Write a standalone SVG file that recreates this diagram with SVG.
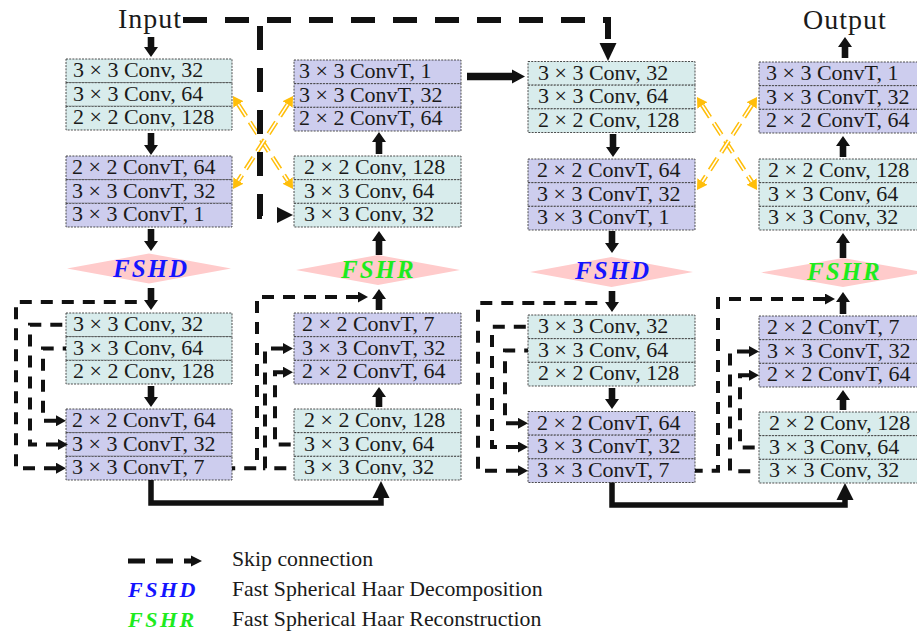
<svg xmlns="http://www.w3.org/2000/svg" width="917" height="635" viewBox="0 0 917 635">
<defs>
<style>
.cv{fill:#D8ECEC;stroke:#3a3a3a;stroke-width:0.9;stroke-dasharray:2 1.2}
.ct{fill:#CDCDEE;stroke:#3a3a3a;stroke-width:0.9;stroke-dasharray:2 1.2}
.lb{font-family:"Liberation Serif","Times New Roman",serif;font-size:22px;fill:#1a1a1a}
.io{font-family:"Liberation Serif","Times New Roman",serif;font-size:28px;letter-spacing:1px;fill:#1a1a1a}
.lg{font-family:"Liberation Serif","Times New Roman",serif;font-size:21.8px;fill:#1a1a1a}
.dm{fill:#FFCBCB}
.hd{font-family:"Liberation Serif","Times New Roman",serif;font-weight:bold;font-style:italic;font-size:25px;letter-spacing:2px;fill:#1414FF}
.hr{font-family:"Liberation Serif","Times New Roman",serif;font-weight:bold;font-style:italic;font-size:25px;letter-spacing:2px;fill:#1EEB1E}
.blk{fill:#111}
.skip{fill:none;stroke:#111;stroke-width:4;stroke-dasharray:12 9;marker-start:url(#sa)}
.big{fill:none;stroke:#111;stroke-width:6;stroke-dasharray:24 18}
.thick{fill:none;stroke:#111;stroke-width:5.5}
.or{fill:none;stroke:#FFBE0A;stroke-width:4.6;stroke-dasharray:14 7;marker-start:url(#oa);marker-end:url(#oa)}
.orw{fill:none;stroke:#fff;stroke-width:1.6;stroke-dasharray:14 7}
</style>
<marker id="sa" markerUnits="userSpaceOnUse" markerWidth="11" markerHeight="11" refX="0" refY="5.5" orient="auto-start-reverse"><path d="M0,0 L10,5.5 L0,11 z" fill="#111"/></marker>
<marker id="oa" markerUnits="userSpaceOnUse" markerWidth="11" markerHeight="12" refX="0" refY="6" orient="auto-start-reverse"><path d="M0,0 L10,6 L0,12 z" fill="#FFBE0A"/></marker>
</defs>
<rect width="917" height="635" fill="#fff"/>

<g id="input"><text class="io" x="118" y="28">Input</text></g>
<g id="output"><text class="io" x="803" y="29">Output</text></g>

<g id="A1" transform="translate(66,59)">
<rect class="cv" x="0" y="0" width="166" height="23.67"/><rect class="cv" x="0" y="23.67" width="166" height="23.67"/><rect class="cv" x="0" y="47.33" width="166" height="23.67"/>
<text class="lb" x="7" y="18">3 × 3 Conv, 32</text><text class="lb" x="7" y="41.7">3 × 3 Conv, 64</text><text class="lb" x="7" y="65.3">2 × 2 Conv, 128</text>
</g>
<g id="A2" transform="translate(66,156)">
<rect class="ct" x="0" y="0" width="166" height="23.67"/><rect class="ct" x="0" y="23.67" width="166" height="23.67"/><rect class="ct" x="0" y="47.33" width="166" height="23.67"/>
<text class="lb" x="6" y="18">2 × 2 ConvT, 64</text><text class="lb" x="6" y="41.7">3 × 3 ConvT, 32</text><text class="lb" x="6" y="65.3">3 × 3 ConvT, 1</text>
</g>
<g id="C1" transform="translate(294,60)">
<rect class="ct" x="0" y="0" width="167" height="23.67"/><rect class="ct" x="0" y="23.67" width="167" height="23.67"/><rect class="ct" x="0" y="47.33" width="167" height="23.67"/>
<text class="lb" x="5" y="18">3 × 3 ConvT, 1</text><text class="lb" x="5" y="41.7">3 × 3 ConvT, 32</text><text class="lb" x="5" y="65.3">2 × 2 ConvT, 64</text>
</g>
<g id="C2" transform="translate(294,156)">
<rect class="cv" x="0" y="0" width="167" height="23.67"/><rect class="cv" x="0" y="23.67" width="167" height="23.67"/><rect class="cv" x="0" y="47.33" width="167" height="23.67"/>
<text class="lb" x="10" y="18">2 × 2 Conv, 128</text><text class="lb" x="10" y="41.7">3 × 3 Conv, 64</text><text class="lb" x="10" y="65.3">3 × 3 Conv, 32</text>
</g>
<g id="E1" transform="translate(528,61.5)">
<rect class="cv" x="0" y="0" width="167" height="23.67"/><rect class="cv" x="0" y="23.67" width="167" height="23.67"/><rect class="cv" x="0" y="47.33" width="167" height="23.67"/>
<text class="lb" x="10" y="18">3 × 3 Conv, 32</text><text class="lb" x="10" y="41.7">3 × 3 Conv, 64</text><text class="lb" x="10" y="65.3">2 × 2 Conv, 128</text>
</g>
<g id="E2" transform="translate(528,159)">
<rect class="ct" x="0" y="0" width="167" height="23.67"/><rect class="ct" x="0" y="23.67" width="167" height="23.67"/><rect class="ct" x="0" y="47.33" width="167" height="23.67"/>
<text class="lb" x="9" y="18">2 × 2 ConvT, 64</text><text class="lb" x="9" y="41.7">3 × 3 ConvT, 32</text><text class="lb" x="9" y="65.3">3 × 3 ConvT, 1</text>
</g>
<g id="G1" transform="translate(759,62)">
<rect class="ct" x="0" y="0" width="167" height="23.67"/><rect class="ct" x="0" y="23.67" width="167" height="23.67"/><rect class="ct" x="0" y="47.33" width="167" height="23.67"/>
<text class="lb" x="7" y="18">3 × 3 ConvT, 1</text><text class="lb" x="7" y="41.7">3 × 3 ConvT, 32</text><text class="lb" x="7" y="65.3">2 × 2 ConvT, 64</text>
</g>
<g id="G2" transform="translate(759,159)">
<rect class="cv" x="0" y="0" width="167" height="23.67"/><rect class="cv" x="0" y="23.67" width="167" height="23.67"/><rect class="cv" x="0" y="47.33" width="167" height="23.67"/>
<text class="lb" x="9" y="18">2 × 2 Conv, 128</text><text class="lb" x="9" y="41.7">3 × 3 Conv, 64</text><text class="lb" x="9" y="65.3">3 × 3 Conv, 32</text>
</g>

<g id="FSHD1"><polygon class="dm" points="67,268.5 149,253.5 231,268.5 149,283.5"/><text class="hd" x="113" y="277">FSHD</text></g>
<g id="FSHR1"><polygon class="dm" points="296,270 378,255 460,270 378,285"/><text class="hr" x="341" y="278">FSHR</text></g>
<g id="FSHD2"><polygon class="dm" points="530,272 611.5,257 693,272 611.5,287"/><text class="hd" x="575" y="279">FSHD</text></g>
<g id="FSHR2"><polygon class="dm" points="761,272.5 843,258 925,272.5 843,287"/><text class="hr" x="807" y="280">FSHR</text></g>

<g id="B1" transform="translate(66,313)">
<rect class="cv" x="0" y="0" width="166" height="23.67"/><rect class="cv" x="0" y="23.67" width="166" height="23.67"/><rect class="cv" x="0" y="47.33" width="166" height="23.67"/>
<text class="lb" x="7" y="18">3 × 3 Conv, 32</text><text class="lb" x="7" y="41.7">3 × 3 Conv, 64</text><text class="lb" x="7" y="65.3">2 × 2 Conv, 128</text>
</g>
<g id="B2" transform="translate(66,409)">
<rect class="ct" x="0" y="0" width="166" height="23.67"/><rect class="ct" x="0" y="23.67" width="166" height="23.67"/><rect class="ct" x="0" y="47.33" width="166" height="23.67"/>
<text class="lb" x="6" y="18">2 × 2 ConvT, 64</text><text class="lb" x="6" y="41.7">3 × 3 ConvT, 32</text><text class="lb" x="6" y="65.3">3 × 3 ConvT, 7</text>
</g>
<g id="D1" transform="translate(294,313)">
<rect class="ct" x="0" y="0" width="167" height="23.67"/><rect class="ct" x="0" y="23.67" width="167" height="23.67"/><rect class="ct" x="0" y="47.33" width="167" height="23.67"/>
<text class="lb" x="8" y="18">2 × 2 ConvT, 7</text><text class="lb" x="8" y="41.7">3 × 3 ConvT, 32</text><text class="lb" x="8" y="65.3">2 × 2 ConvT, 64</text>
</g>
<g id="D2" transform="translate(294,409)">
<rect class="cv" x="0" y="0" width="167" height="23.67"/><rect class="cv" x="0" y="23.67" width="167" height="23.67"/><rect class="cv" x="0" y="47.33" width="167" height="23.67"/>
<text class="lb" x="10" y="18">2 × 2 Conv, 128</text><text class="lb" x="10" y="41.7">3 × 3 Conv, 64</text><text class="lb" x="10" y="65.3">3 × 3 Conv, 32</text>
</g>
<g id="F1" transform="translate(528,315)">
<rect class="cv" x="0" y="0" width="167" height="23.67"/><rect class="cv" x="0" y="23.67" width="167" height="23.67"/><rect class="cv" x="0" y="47.33" width="167" height="23.67"/>
<text class="lb" x="10" y="18">3 × 3 Conv, 32</text><text class="lb" x="10" y="41.7">3 × 3 Conv, 64</text><text class="lb" x="10" y="65.3">2 × 2 Conv, 128</text>
</g>
<g id="F2" transform="translate(528,411.5)">
<rect class="ct" x="0" y="0" width="167" height="23.67"/><rect class="ct" x="0" y="23.67" width="167" height="23.67"/><rect class="ct" x="0" y="47.33" width="167" height="23.67"/>
<text class="lb" x="9" y="18">2 × 2 ConvT, 64</text><text class="lb" x="9" y="41.7">3 × 3 ConvT, 32</text><text class="lb" x="9" y="65.3">3 × 3 ConvT, 7</text>
</g>
<g id="H1" transform="translate(759,316)">
<rect class="ct" x="0" y="0" width="167" height="23.67"/><rect class="ct" x="0" y="23.67" width="167" height="23.67"/><rect class="ct" x="0" y="47.33" width="167" height="23.67"/>
<text class="lb" x="8" y="18">2 × 2 ConvT, 7</text><text class="lb" x="8" y="41.7">3 × 3 ConvT, 32</text><text class="lb" x="8" y="65.3">2 × 2 ConvT, 64</text>
</g>
<g id="H2" transform="translate(759,412)">
<rect class="cv" x="0" y="0" width="167" height="23.67"/><rect class="cv" x="0" y="23.67" width="167" height="23.67"/><rect class="cv" x="0" y="47.33" width="167" height="23.67"/>
<text class="lb" x="10" y="18">2 × 2 Conv, 128</text><text class="lb" x="10" y="41.7">3 × 3 Conv, 64</text><text class="lb" x="10" y="65.3">3 × 3 Conv, 32</text>
</g>

<g id="connectors">
<path class="or" d="M238.4,104.4 L287.6,180.6"/><path class="orw" d="M238.4,104.4 L287.6,180.6"/>
<path class="or" d="M287.6,104.4 L238.4,180.6"/><path class="orw" d="M287.6,104.4 L238.4,180.6"/>
<path class="or" d="M702.4,105.4 L751.6,181.6"/><path class="orw" d="M702.4,105.4 L751.6,181.6"/>
<path class="or" d="M751.6,105.4 L702.4,181.6"/><path class="orw" d="M751.6,105.4 L702.4,181.6"/>

<path class="big" d="M183,20 H608 V44"/>
<polygon class="blk" points="599.5,43 616.5,43 608,61"/>
<path class="big" d="M260,26 V216 H277"/>
<polygon class="blk" points="277,207 277,223 293,215"/>

<polygon class="blk" points="147.7,37 154.3,37 154.3,47 158,47 151,57 144,47 147.7,47"/>
<polygon class="blk" points="147.7,133 154.3,133 154.3,145 158,145 151,155 144,145 147.7,145"/>
<polygon class="blk" points="147.7,229 154.3,229 154.3,241 158,241 151,251 144,241 147.7,241"/>
<polygon class="blk" points="147.7,288 154.3,288 154.3,300 158,300 151,310 144,300 147.7,300"/>
<polygon class="blk" points="147.7,386 154.3,386 154.3,397 158,397 151,407 144,397 147.7,397"/>
<polygon class="blk" points="375.7,407 382.3,407 382.3,397 386,397 379,387 372,397 375.7,397"/>
<polygon class="blk" points="375.7,310 382.3,310 382.3,299 386,299 379,289 372,299 375.7,299"/>
<polygon class="blk" points="375.7,255 382.3,255 382.3,241 386,241 379,231 372,241 375.7,241"/>
<polygon class="blk" points="375.7,154 382.3,154 382.3,142 386,142 379,132 372,142 375.7,142"/>
<polygon class="blk" points="467,72.7 512,72.7 512,69.5 525,76.5 512,83.5 512,80.3 467,80.3"/>
<polygon class="blk" points="609.7,134 616.3,134 616.3,147 620,147 613,157 606,147 609.7,147"/>
<polygon class="blk" points="608.7,231 615.3,231 615.3,243 619,243 612,253 605,243 608.7,243"/>
<polygon class="blk" points="608.7,291 615.3,291 615.3,302 619,302 612,312 605,302 608.7,302"/>
<polygon class="blk" points="608.7,388 615.3,388 615.3,399 619,399 612,409 605,399 608.7,399"/>
<polygon class="blk" points="839.7,410 846.3,410 846.3,400 850,400 843,390 836,400 839.7,400"/>
<polygon class="blk" points="839.7,314 846.3,314 846.3,302 850,302 843,292 836,302 839.7,302"/>
<polygon class="blk" points="839.7,258 846.3,258 846.3,243 850,243 843,233 836,243 839.7,243"/>
<polygon class="blk" points="839.7,157 846.3,157 846.3,146 850,146 843,136 836,146 839.7,146"/>
<polygon class="blk" points="841.7,58 848.3,58 848.3,47 852,47 845,37 838,47 841.7,47"/>

<path class="thick" d="M151,480 V503 H381 V496"/>
<polygon class="blk" points="372.5,498 389.5,498 381,481"/>
<path class="thick" d="M612,482.5 V505 H845 V498"/>
<polygon class="blk" points="836.5,500 853.5,500 845,483"/>

<path class="skip" d="M56,468.2 H16 V302 H143"/>
<path class="skip" d="M58,444.5 H30 V324.8 H66"/>
<path class="skip" d="M56,420.8 H43 V348.5 H66"/>
<path class="skip" d="M358,297 H257 V468.2 H232"/>
<path class="skip" d="M283,348.5 H265 V468.2 H294"/>
<path class="skip" d="M283,372.2 H275 V444.5 H294"/>
<path class="skip" d="M518,470.7 H478 V303 H606"/>
<path class="skip" d="M518,447 H492 V326.8 H528"/>
<path class="skip" d="M518,423.3 H505 V350.5 H528"/>
<path class="skip" d="M825,299 H718 V470.7 H695"/>
<path class="skip" d="M749,351.5 H730 V471.2 H759"/>
<path class="skip" d="M749,375.2 H740 V447.5 H759"/>
</g>

<g id="legend">
<path d="M128,561 H192" fill="none" stroke="#111" stroke-width="5" stroke-dasharray="17 11"/>
<polygon class="blk" points="191,555.5 202,561 191,566.5"/>
<text class="lg" x="232" y="566">Skip connection</text>
<text class="hd" x="128" y="597" style="font-size:22px;letter-spacing:2.5px">FSHD</text>
<text class="lg" x="232" y="596">Fast Spherical Haar Decomposition</text>
<text class="hr" x="128" y="627" style="font-size:22px;letter-spacing:2.5px">FSHR</text>
<text class="lg" x="232" y="626">Fast Spherical Haar Reconstruction</text>
</g>
</svg>
